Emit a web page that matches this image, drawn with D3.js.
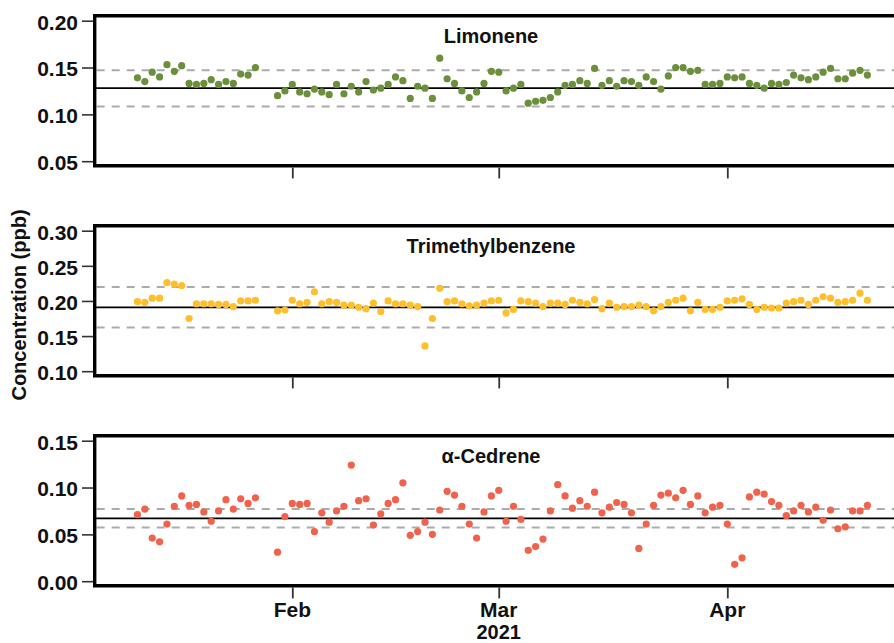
<!DOCTYPE html>
<html><head><meta charset="utf-8">
<script src="https://cdn.jsdelivr.net/npm/d3@7"></script>
<style>
html,body{margin:0;padding:0;background:#fff;overflow:hidden;}
text{font-family:"Liberation Sans",Arial,sans-serif;font-weight:bold;}
</style></head>
<body><svg id="c" width="894" height="643"></svg>
<script>
const dates = [
"2021-01-11","2021-01-12","2021-01-13","2021-01-14","2021-01-15","2021-01-16","2021-01-17","2021-01-18","2021-01-19","2021-01-20","2021-01-21","2021-01-22","2021-01-23","2021-01-24","2021-01-25","2021-01-26","2021-01-27",
"2021-01-30","2021-01-31",
"2021-02-01","2021-02-02","2021-02-03","2021-02-04","2021-02-05","2021-02-06","2021-02-07","2021-02-08","2021-02-09","2021-02-10","2021-02-11","2021-02-12","2021-02-13","2021-02-14","2021-02-15","2021-02-16","2021-02-17","2021-02-18","2021-02-19","2021-02-20","2021-02-21","2021-02-22","2021-02-23","2021-02-24","2021-02-25","2021-02-26","2021-02-27","2021-02-28",
"2021-03-01","2021-03-02","2021-03-03","2021-03-04","2021-03-05","2021-03-06","2021-03-07","2021-03-08","2021-03-09","2021-03-10","2021-03-11","2021-03-12","2021-03-13","2021-03-14","2021-03-15","2021-03-16","2021-03-17","2021-03-18","2021-03-19","2021-03-20","2021-03-21","2021-03-22","2021-03-23","2021-03-24","2021-03-25","2021-03-26","2021-03-27","2021-03-28","2021-03-29","2021-03-30","2021-03-31",
"2021-04-01","2021-04-02","2021-04-03","2021-04-04","2021-04-05","2021-04-06","2021-04-07","2021-04-08","2021-04-09","2021-04-10","2021-04-11","2021-04-12","2021-04-13","2021-04-14","2021-04-15","2021-04-16","2021-04-17","2021-04-18","2021-04-19","2021-04-20"];

const limonene = [
0.139,0.135,0.145,0.140,0.153,0.146,0.152,0.133,0.132,0.133,0.137,0.132,0.135,0.133,0.143,0.142,0.150,
0.120,0.125,
0.132,0.124,0.122,0.127,0.124,0.121,0.132,0.122,0.130,0.124,0.135,0.126,0.128,0.132,0.140,0.136,0.117,0.130,0.128,0.117,0.160,0.138,0.133,0.125,0.118,0.124,0.133,0.146,
0.145,0.125,0.128,0.132,0.112,0.114,0.115,0.118,0.124,0.131,0.132,0.136,0.133,0.149,0.131,0.136,0.130,0.136,0.135,0.131,0.140,0.135,0.127,0.141,0.150,0.150,0.146,0.147,0.132,0.132,0.133,
0.140,0.139,0.140,0.133,0.131,0.128,0.133,0.132,0.134,0.142,0.139,0.137,0.140,0.145,0.149,0.138,0.138,0.144,0.147,0.142];

const trimethylbenzene = [
0.199,0.198,0.204,0.204,0.226,0.224,0.222,0.175,0.196,0.196,0.196,0.195,0.195,0.192,0.200,0.200,0.201,
0.186,0.187,
0.201,0.196,0.198,0.213,0.196,0.199,0.198,0.194,0.194,0.191,0.189,0.197,0.185,0.200,0.196,0.196,0.194,0.192,0.136,0.175,0.218,0.199,0.200,0.196,0.193,0.194,0.197,0.200,
0.201,0.183,0.188,0.200,0.199,0.197,0.192,0.197,0.197,0.195,0.201,0.198,0.196,0.202,0.189,0.197,0.191,0.192,0.192,0.194,0.192,0.186,0.192,0.198,0.201,0.204,0.186,0.198,0.188,0.188,0.191,
0.200,0.201,0.203,0.195,0.188,0.191,0.190,0.190,0.197,0.199,0.201,0.195,0.201,0.206,0.204,0.198,0.199,0.201,0.211,0.201];

const cedrene = [
0.071,0.077,0.046,0.042,0.061,0.080,0.091,0.081,0.082,0.074,0.064,0.075,0.087,0.077,0.088,0.083,0.089,
0.031,0.069,
0.083,0.082,0.083,0.053,0.073,0.063,0.075,0.080,0.124,0.086,0.088,0.060,0.072,0.083,0.087,0.105,0.049,0.053,0.063,0.050,0.076,0.096,0.092,0.080,0.061,0.046,0.074,0.091,
0.097,0.064,0.080,0.066,0.033,0.037,0.045,0.075,0.103,0.091,0.078,0.086,0.080,0.095,0.073,0.079,0.084,0.082,0.073,0.035,0.061,0.081,0.092,0.094,0.089,0.097,0.082,0.091,0.073,0.079,0.081,
0.061,0.018,0.025,0.090,0.095,0.093,0.085,0.081,0.070,0.075,0.081,0.074,0.079,0.065,0.076,0.056,0.058,0.075,0.075,0.081];

const compoundNames = ["Limonene","Trimethylbenzene","α-Cedrene"];
const meanLines = [0.128, 0.1908, 0.067];
const upperLines = [0.147, 0.2197, 0.077];
const lowerLines = [0.1085, 0.1623, 0.0574];
const yTickValues = [[0.05,0.10,0.15,0.20],[0.10,0.15,0.20,0.25,0.30],[0.00,0.05,0.10,0.15]];
const xTickDates = ["2021-02-01","2021-03-01","2021-04-01"];
const xTickLabels = ["Feb","Mar","Apr"];
const yearLabel = "2021";
const yAxisTitle = "Concentration (ppb)";
const colors = ["#6b8f3b","#ffbf2b","#f0624b"];

const series = [limonene, trimethylbenzene, cedrene];
const parse = d3.utcParse("%Y-%m-%d");
const dts = dates.map(parse);

const svg = d3.select("#c");
const left = 94.7, right = 905, panelH = 150;
const panelTops = [15.7, 225.7, 435.7];

const x = d3.scaleUtc().domain([parse("2021-02-01"), parse("2021-04-01")]).range([292.3, 727.3]);

series.forEach((vals, i) => {
  const top = panelTops[i];
  const ticks = yTickValues[i];
  const y = d3.scaleLinear().domain([ticks[0], ticks[ticks.length-1]]).range([top+145.5, top+5]);
  const g = svg.append("g");
  const bottom = top + panelH;

  [upperLines[i], lowerLines[i]].forEach(v => {
    g.append("line").attr("x1", left+2).attr("x2", right).attr("y1", y(v)).attr("y2", y(v))
      .attr("stroke", "#ababab").attr("stroke-width", 2).attr("stroke-dasharray", "8,7");
  });
  g.append("line").attr("x1", left).attr("x2", right).attr("y1", y(meanLines[i])).attr("y2", y(meanLines[i]))
    .attr("stroke", "#000").attr("stroke-width", 1.8);

  g.append("g").selectAll("circle").data(vals).join("circle")
    .attr("cx", (d, k) => x(dts[k])).attr("cy", d => y(d)).attr("r", 3.6)
    .attr("fill", colors[i]);

  g.append("text").attr("x", 491).attr("y", top + 27).attr("text-anchor", "middle")
    .attr("font-size", 20).attr("fill", "#111").text(compoundNames[i]);

  g.append("path").attr("d", `M${right},${top}H${left}V${bottom}H${right}`)
    .attr("fill", "none").attr("stroke", "#000").attr("stroke-width", 3.4);

  const ya = g.append("g").attr("transform", `translate(${left-1.7},0)`)
    .call(d3.axisLeft(y).tickValues(ticks).tickFormat(d3.format(".2f")).tickSize(11).tickPadding(4));
  ya.select(".domain").remove();
  ya.selectAll(".tick line").attr("stroke", "#333").attr("stroke-width", 1.6);
  ya.selectAll(".tick text").attr("font-size", 21).attr("fill", "#111")
    .attr("font-family", "'Liberation Sans',Arial,sans-serif").attr("font-weight", "bold").attr("dy", "0.4em");

  const xa = g.append("g").attr("transform", `translate(0,${bottom+1.7})`)
    .call(d3.axisBottom(x).tickValues(xTickDates.map(parse)).tickSize(11).tickFormat(""));
  xa.select(".domain").remove();
  xa.selectAll(".tick line").attr("stroke", "#333").attr("stroke-width", 1.8);

  if (i === 2) {
    xTickDates.forEach((d, k) => {
      svg.append("text").attr("x", x(parse(d))).attr("y", 617.3).attr("text-anchor", "middle")
        .attr("font-size", 21).attr("fill", "#111").text(xTickLabels[k]);
    });
    svg.append("text").attr("x", x(parse(xTickDates[1]))).attr("y", 638.5).attr("text-anchor", "middle")
      .attr("font-size", 20).attr("fill", "#111").text(yearLabel);
  }
});

svg.append("text").attr("transform", "translate(26,305) rotate(-90)").attr("text-anchor", "middle")
  .attr("font-size", 20).attr("fill", "#111").text(yAxisTitle);
</script></body></html>
